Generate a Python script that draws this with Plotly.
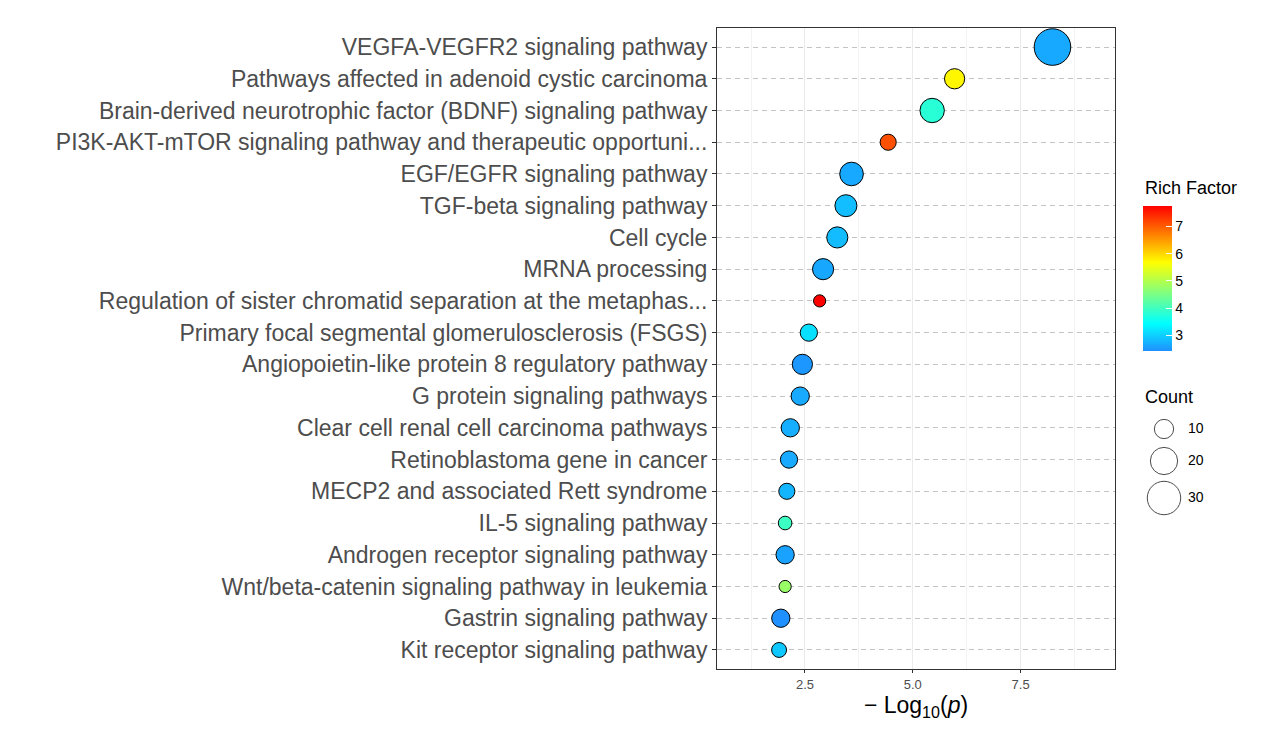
import numpy as np
import plotly.graph_objects as go

# ---------------- data ----------------
pathways = [
    "VEGFA-VEGFR2 signaling pathway",
    "Pathways affected in adenoid cystic carcinoma",
    "Brain-derived neurotrophic factor (BDNF) signaling pathway",
    "PI3K-AKT-mTOR signaling pathway and therapeutic opportuni...",
    "EGF/EGFR signaling pathway",
    "TGF-beta signaling pathway",
    "Cell cycle",
    "MRNA processing",
    "Regulation of sister chromatid separation at the metaphas...",
    "Primary focal segmental glomerulosclerosis (FSGS)",
    "Angiopoietin-like protein 8 regulatory pathway",
    "G protein signaling pathways",
    "Clear cell renal cell carcinoma pathways",
    "Retinoblastoma gene in cancer",
    "MECP2 and associated Rett syndrome",
    "IL-5 signaling pathway",
    "Androgen receptor signaling pathway",
    "Wnt/beta-catenin signaling pathway in leukemia",
    "Gastrin signaling pathway",
    "Kit receptor signaling pathway",
]
neg_log10_p = [8.24, 5.97, 5.45, 4.43, 3.58, 3.45, 3.25, 2.92, 2.84, 2.59,
               2.44, 2.39, 2.16, 2.13, 2.08, 2.04, 2.04, 2.04, 1.94, 1.90]
counts = [36, 11, 16, 7, 15, 13, 12, 12, 4, 8,
          11, 9, 9, 8, 7, 5, 9, 4, 9, 6]
rich_factor = [2.66, 5.75, 3.81, 7.12, 2.66, 2.86, 2.84, 2.65, 7.76, 3.17,
               2.50, 2.68, 2.72, 2.68, 2.78, 3.98, 2.60, 4.78, 2.44, 2.95]

count_legend = [10, 20, 30]
rf_ticks = [3, 4, 5, 6, 7]

# ---------------- styling helpers ----------------
def size_fn(c):
    return 6.1 * np.sqrt(np.asarray(c, dtype=float))

colorscale = [[0.0, "#1E90FF"], [0.19, "#00FFFF"], [0.61, "#FFFF00"], [1.0, "#FF0000"]]

W, H = 1269, 749
OFF = 8  # page body margin offset (screen = figure + OFF)

# target screen-pixel layout
PANEL_L, PANEL_R, PANEL_T, PANEL_B = 717, 1115, 28, 669
LEG_X = 1143

ML, MR = 2, 2
MT = PANEL_T - OFF
MB = H - (PANEL_B - OFF)
PW = W - ML - MR
PH = H - MT - MB

def px_x(sx):
    return (sx - OFF - ML) / PW

def px_y(sy):
    return (H - MB - (sy - OFF)) / PH

FONT = "Liberation Sans, Arial, sans-serif"

fig = go.Figure()

fig.add_trace(go.Scatter(
    x=neg_log10_p, y=pathways, mode="markers",
    marker=dict(
        size=size_fn(counts), sizemode="diameter",
        color=rich_factor, colorscale=colorscale,
        cmin=min(rich_factor), cmax=max(rich_factor),
        line=dict(color="black", width=1), opacity=1,
        colorbar=dict(
            xref="container", yref="container",
            x=(LEG_X - OFF) / W, xanchor="left",
            y=(H - 231) / H, yanchor="top",
            len=145, lenmode="pixels",
            thickness=29, thicknessmode="pixels",
            outlinewidth=0, xpad=0, ypad=0,
            tickvals=rf_ticks, ticks="inside", ticklen=6, tickcolor="white",
            tickfont=dict(family=FONT, size=14, color="black"),
            tickprefix="\u00a0\u00a0",
        ),
    ),
    showlegend=False, hoverinfo="skip",
))

# size legend on hidden axis whose ranges are in screen-pixel units
leg_y = [429, 461, 498]
fig.add_trace(go.Scatter(
    x=[1164] * len(count_legend), y=leg_y, mode="markers",
    marker=dict(size=size_fn(count_legend), sizemode="diameter", color="white",
                line=dict(color="black", width=1)),
    xaxis="x2", yaxis="y2", showlegend=False, hoverinfo="skip",
))
fig.add_trace(go.Scatter(
    x=[1188] * len(count_legend), y=leg_y, mode="text",
    text=[str(c) for c in count_legend], textposition="middle right",
    textfont=dict(family=FONT, size=14, color="black"),
    xaxis="x2", yaxis="y2", showlegend=False, hoverinfo="skip",
))

fig.update_layout(
    template="none",
    width=W, height=H,
    margin=dict(l=ML, r=MR, t=MT, b=MB, autoexpand=False),
    paper_bgcolor="white", plot_bgcolor="white",
    font=dict(family=FONT),
    xaxis=dict(
        domain=[px_x(PANEL_L), px_x(PANEL_R)], automargin=False,
        range=[0.46, 9.69], tick0=0, dtick=2.5, tickformat=".1f",
        showgrid=True, gridcolor="#EBEBEB", gridwidth=1.4,
        minor=dict(dtick=1.25, tick0=0, showgrid=True, gridcolor="#F3F3F3", gridwidth=0.8),
        zeroline=False,
        showline=True, linecolor="#333333", linewidth=1, mirror=True,
        ticks="outside", ticklen=3, tickcolor="#333333",
        tickfont=dict(size=13, color="#4D4D4D"),
        title=dict(text="\u2212 Log<sub>10</sub>(<i>p</i>)",
                   font=dict(size=23, color="black"), standoff=6),
    ),
    yaxis=dict(
        domain=[0, 1], automargin=False,
        type="category", categoryorder="array", categoryarray=pathways[::-1],
        range=[-0.6, len(pathways) - 0.4],
        showgrid=True, gridcolor="#C4C4C4", gridwidth=1, griddash="5px,4px",
        zeroline=False,
        showline=True, linecolor="#333333", linewidth=1, mirror=True,
        ticks="outside", ticklen=4, tickcolor="#333333",
        tickfont=dict(size=23, color="#4D4D4D"),
    ),
    xaxis2=dict(domain=[px_x(LEG_X), 1.0],
                range=[LEG_X, W - MR + OFF], visible=False,
                anchor="y2", fixedrange=True, automargin=False),
    yaxis2=dict(domain=[0, 1], range=[PANEL_B, PANEL_T], visible=False,
                anchor="x2", fixedrange=True, automargin=False),
    annotations=[
        dict(text="Rich Factor", xref="paper", yref="paper",
             x=px_x(LEG_X), y=px_y(188), xanchor="left", yanchor="middle",
             showarrow=False, font=dict(size=18, color="black")),
        dict(text="Count", xref="paper", yref="paper",
             x=px_x(LEG_X), y=px_y(397), xanchor="left", yanchor="middle",
             showarrow=False, font=dict(size=18, color="black")),
    ],
)

fig.write_html("out.html")
